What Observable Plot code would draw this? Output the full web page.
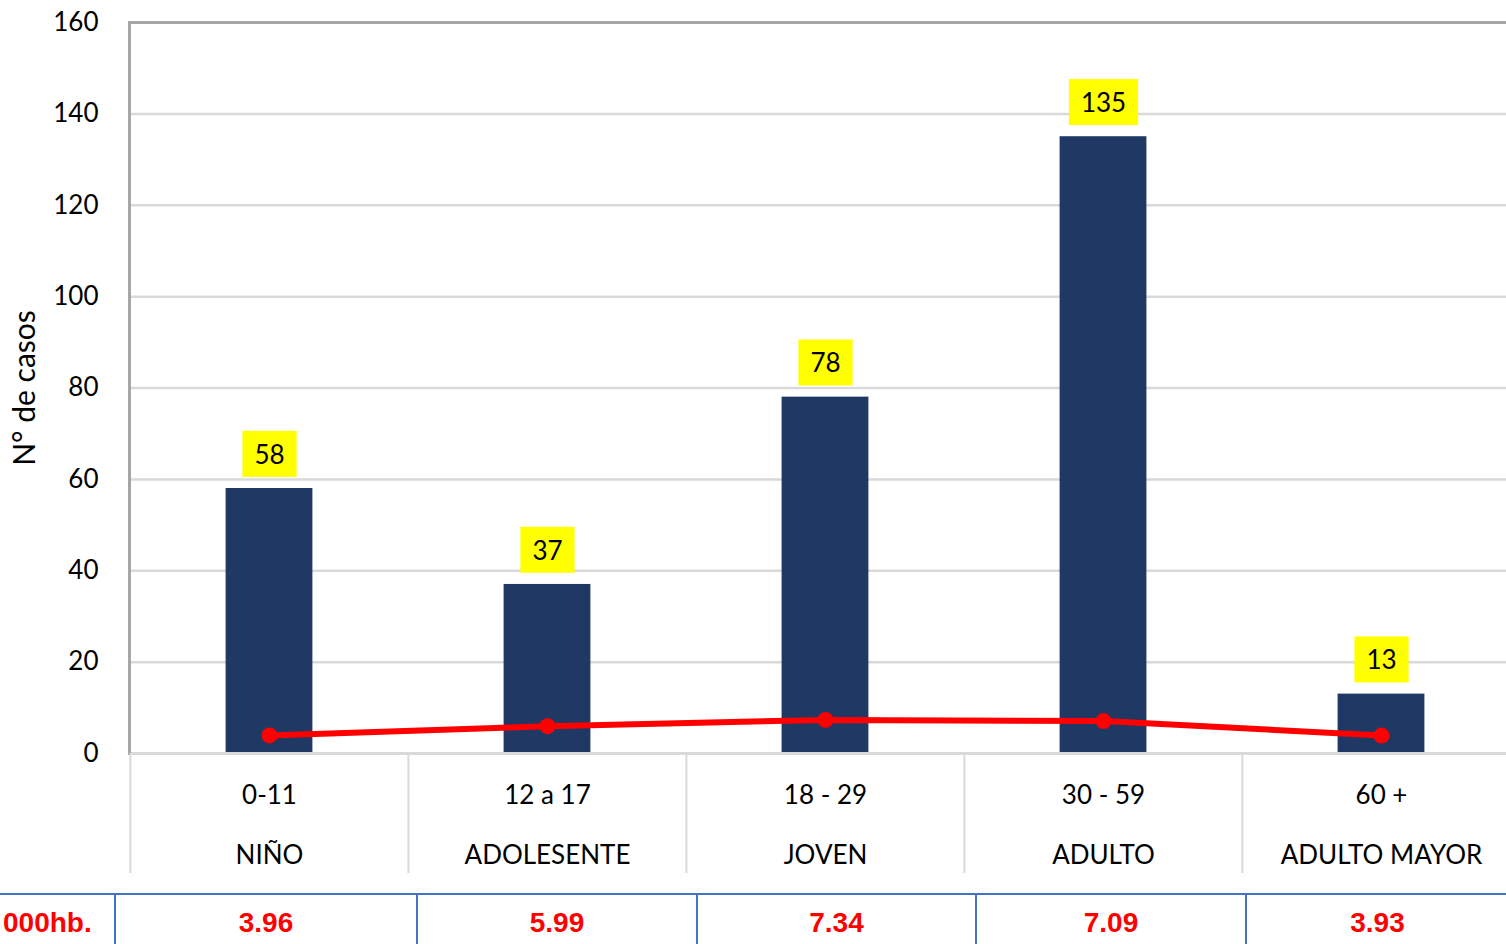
<!DOCTYPE html>
<html>
<head>
<meta charset="utf-8">
<script src="https://cdn.jsdelivr.net/npm/d3@7"></script>
<script src="https://cdn.jsdelivr.net/npm/@observablehq/plot@0.6"></script>
<style>
  html, body { margin: 0; padding: 0; background: #fff; overflow: hidden; }
  #chart svg { display: block; }
  table.rates { border-collapse: collapse; table-layout: fixed; width: 1508px; font-family: "Liberation Sans", Arial, sans-serif; }
  table.rates td { border-top: 2px solid #4472C4; border-left: 2px solid #4472C4; color: #ff0000; font-weight: bold; font-size: 28px; line-height: 28px; text-align: center; padding: 14px 0 20px 0; }
  table.rates td:first-child { border-left: none; text-align: left; padding-left: 3px; }
</style>
</head>
<body>
<div id="chart"></div>
<script>
const categories = ["0-11", "12 a 17", "18 - 29", "30 - 59", "60 +"];
const groups = ["NIÑO", "ADOLESENTE", "JOVEN", "ADULTO", "ADULTO MAYOR"];
const cases = [58, 37, 78, 135, 13];
const rates = [3.96, 5.99, 7.34, 7.09, 3.93];
const yTicks = [0, 20, 40, 60, 80, 100, 120, 140, 160];
const yLabel = "N° de casos";
const rateRowLabel = "000hb.";
const rateCellWidths = [115, 302, 280, 279, 270, 262];

const data = categories.map((c, i) => ({cat: c, group: groups[i], cases: cases[i], rate: rates[i]}));

const chart = Plot.plot({
  width: 1506,
  height: 893,
  marginLeft: 129,
  marginRight: 0,
  marginTop: 22,
  marginBottom: 140,
  style: {fontFamily: "Lato, sans-serif", fontSize: "26px", color: "#000", background: "#fff"},
  x: {domain: categories, range: [129, 1520], padding: 0},
  y: {domain: [0, 160]},
  marks: [
    Plot.ruleY(yTicks.filter(t => t > 0 && t < 160), {stroke: "#d9d9d9", strokeWidth: 2.5}),
    Plot.barY(data, {x: "cat", y: "cases", fill: "#203864", insetLeft: 95.6, insetRight: 95.6}),
    Plot.ruleY([0], {stroke: "#d9d9d9", strokeWidth: 3}),
    Plot.frame({anchor: "top", stroke: "#a6a6a6", strokeWidth: 3}),
    Plot.frame({anchor: "left", stroke: "#a6a6a6", strokeWidth: 3}),
    Plot.axisY({ticks: yTicks, tickSize: 0, tickPadding: 31, label: null, fontSize: 26, fill: "#000"}),
    Plot.text([yLabel], {frameAnchor: "left", rotate: -90, dx: -104, text: d => d, textAnchor: "middle", lineAnchor: "middle", fontSize: 30, fill: "#000"}),
    Plot.axisX({tickSize: 120, tickFormat: () => "", dx: -139.1, stroke: "#d9d9d9", strokeWidth: 2, label: null}),
    Plot.text(data, {x: "cat", frameAnchor: "bottom", dy: 50, text: "cat", fontSize: 26, fill: "#000"}),
    Plot.text(data, {x: "cat", frameAnchor: "bottom", dy: 110, text: "group", fontSize: 26, fill: "#000"}),
    Plot.line(data, {x: "cat", y: "rate", stroke: "#ff0000", strokeWidth: 6}),
    Plot.dot(data, {x: "cat", y: "rate", r: 8, fill: "#ff0000"}),
    Plot.text(data, {x: "cat", y: "cases", dy: -33, text: d => String(d.cases), fontSize: 26, fill: "#000"})
  ]
});

document.getElementById("chart").appendChild(chart);

// yellow background boxes behind the value labels (the last text mark)
const textGroups = chart.querySelectorAll('g[aria-label="text"]');
const labelGroup = textGroups[textGroups.length - 1];
labelGroup.querySelectorAll("text").forEach(t => {
  const b = t.getBBox();
  const r = document.createElementNS("http://www.w3.org/2000/svg", "rect");
  r.setAttribute("x", b.x - 12);
  r.setAttribute("y", b.y - 7);
  r.setAttribute("width", b.width + 24);
  r.setAttribute("height", b.height + 14);
  r.setAttribute("fill", "#ffff00");
  if (t.getAttribute("transform")) r.setAttribute("transform", t.getAttribute("transform"));
  t.parentNode.insertBefore(r, t);
});

// rate table below the chart
const table = document.createElement("table");
table.className = "rates";
const colgroup = document.createElement("colgroup");
rateCellWidths.forEach(w => { const c = document.createElement("col"); c.style.width = w + "px"; colgroup.appendChild(c); });
table.appendChild(colgroup);
const tr = document.createElement("tr");
[rateRowLabel, ...rates.map(r => r.toFixed(2))].forEach(v => {
  const td = document.createElement("td");
  td.textContent = v;
  tr.appendChild(td);
});
table.appendChild(tr);
document.body.appendChild(table);
</script>
</body>
</html>
